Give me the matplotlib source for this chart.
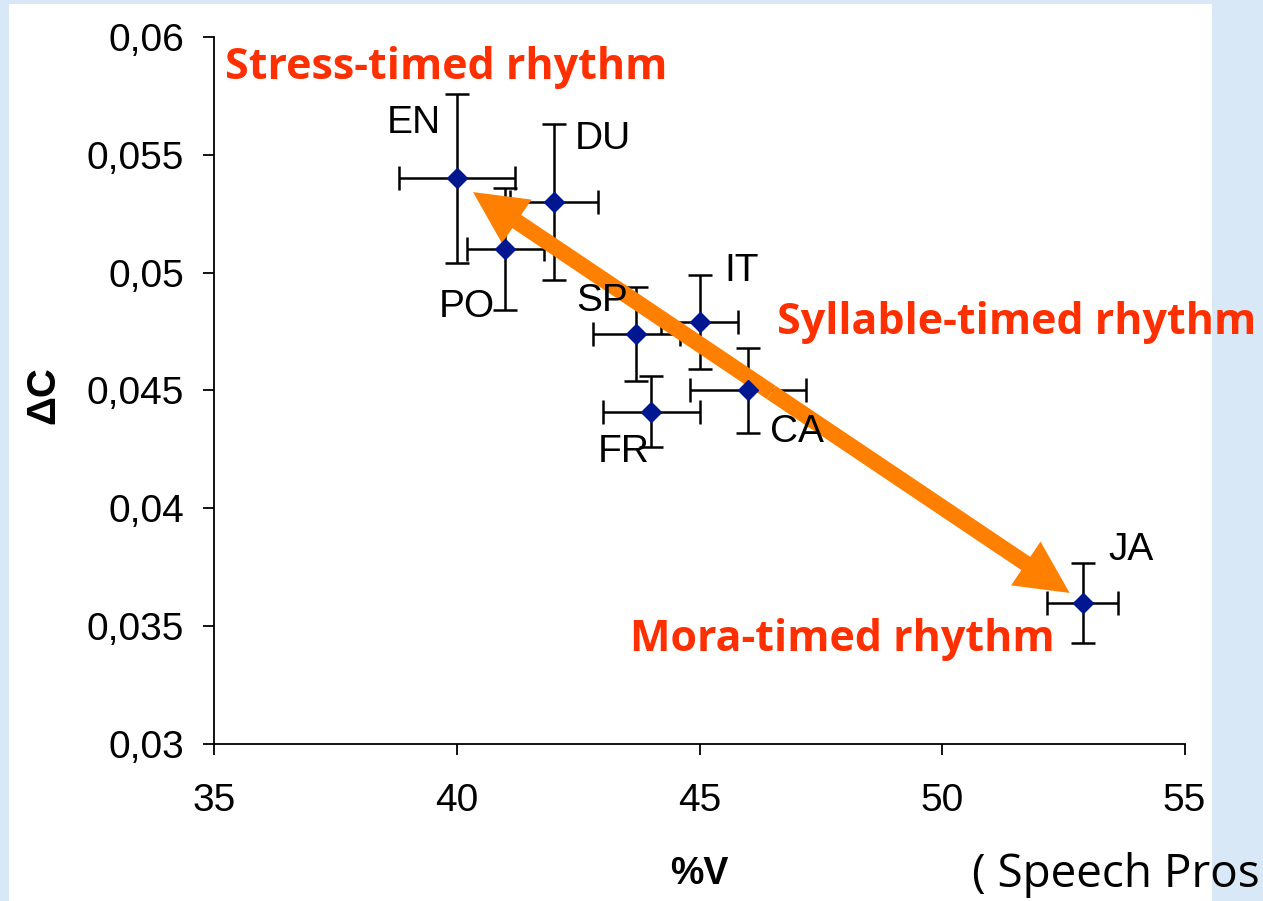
import numpy as np
import matplotlib.pyplot as plt
from matplotlib.patches import Rectangle, FancyArrowPatch
from matplotlib.ticker import FuncFormatter

# rhythm metrics per language (%V vs delta C)
languages = ['EN', 'DU', 'PO', 'SP', 'IT', 'CA', 'FR', 'JA']
pct_v = [40.0, 42.0, 41.0, 43.7, 45.0, 46.0, 44.0, 52.9]
delta_c = [0.0540, 0.0530, 0.0510, 0.0474, 0.0479, 0.0450, 0.0441, 0.0360]
pct_v_err = [1.2, 0.9, 0.8, 0.9, 0.8, 1.2, 1.0, 0.73]
delta_c_err = [0.0036, 0.0033, 0.0026, 0.0020, 0.0020, 0.0018, 0.0015, 0.0017]

# label offsets (points) relative to each point
label_offsets = [(-31, 40), (35, 45), (-28, -42), (-25, 24), (30, 37), (35, -30), (-20, -29), (35, 38)]

x_ticks = [35, 40, 45, 50, 55]
y_ticks = [0.03, 0.035, 0.04, 0.045, 0.05, 0.055, 0.06]

# arrow between stress-timed and mora-timed ends
arrow_start = (40.33, 0.05342)
arrow_end = (52.63, 0.03641)

sans = ['Liberation Sans', 'DejaVu Sans']
deco = ['Open Sans', 'DejaVu Sans']
red = '#ff2f00'

fig = plt.figure(figsize=(12.63, 9.01), dpi=100, facecolor='#d9e8f6')
fig.patches.append(Rectangle((9 / 1263, 0), 1203 / 1263, 897 / 901,
                             transform=fig.transFigure, facecolor='white',
                             edgecolor='none', zorder=-5))

ax = fig.add_axes([0.1698, 0.1743, 0.7681, 0.7846])
ax.set_facecolor('none')

ax.errorbar(pct_v, delta_c, xerr=pct_v_err, yerr=delta_c_err, fmt='none',
            ecolor='black', elinewidth=1.8, capsize=8.5, capthick=1.8, zorder=2)

arrow_mid = ((arrow_start[0] + arrow_end[0]) / 2, (arrow_start[1] + arrow_end[1]) / 2)
for tip in (arrow_start, arrow_end):
    ax.add_patch(FancyArrowPatch(arrow_mid, tip,
                                 arrowstyle='simple,head_length=38,head_width=38,tail_width=11.5',
                                 mutation_scale=1, color='#ff8000', lw=0,
                                 shrinkA=0, shrinkB=0, zorder=3))

ax.plot(pct_v, delta_c, 'D', color='#00178f', ms=10.5, zorder=4)

for name, x, y, off in zip(languages, pct_v, delta_c, label_offsets):
    ax.annotate(name, (x, y), xytext=off, textcoords='offset points',
                ha='center', va='center', fontsize=28, family=sans, zorder=5)

ax.set_xlim(35, 55)
ax.set_ylim(0.03, 0.06)
ax.set_xticks(x_ticks)
ax.set_yticks(y_ticks)
ax.yaxis.set_major_formatter(FuncFormatter(lambda v, p: f'{v:g}'.replace('.', ',')))
ax.spines['top'].set_visible(False)
ax.spines['right'].set_visible(False)
for s in ['left', 'bottom']:
    ax.spines[s].set_linewidth(1.3)
ax.tick_params(direction='out', length=8, width=1.3, labelsize=28, pad=14)
ax.tick_params(axis='x', pad=20)
for lab in ax.get_xticklabels() + ax.get_yticklabels():
    lab.set_family(sans)

fig.text(0.034, 0.562, '\u0394C', rotation=90, ha='center', va='center',
         fontsize=29, fontweight='bold', family=sans)
fig.text(0.554, 0.030, '%V', ha='center', va='center',
         fontsize=27, fontweight='bold', family=sans)

fig.text(0.3531, 0.9256, 'Stress-timed rhythm', ha='center', va='center',
         fontsize=31, fontweight='bold', color=red, family=deco)
fig.text(0.8048, 0.6426, 'Syllable-timed rhythm', ha='center', va='center',
         fontsize=31, fontweight='bold', color=red, family=deco)
fig.text(0.6671, 0.2897, 'Mora-timed rhythm', ha='center', va='center',
         fontsize=31, fontweight='bold', color=red, family=deco)
fig.text(0.7696, 0.029, '( Speech Pros', ha='left', va='center',
         fontsize=33, family=deco)

fig.savefig('out.png', dpi=100, facecolor=fig.get_facecolor())
